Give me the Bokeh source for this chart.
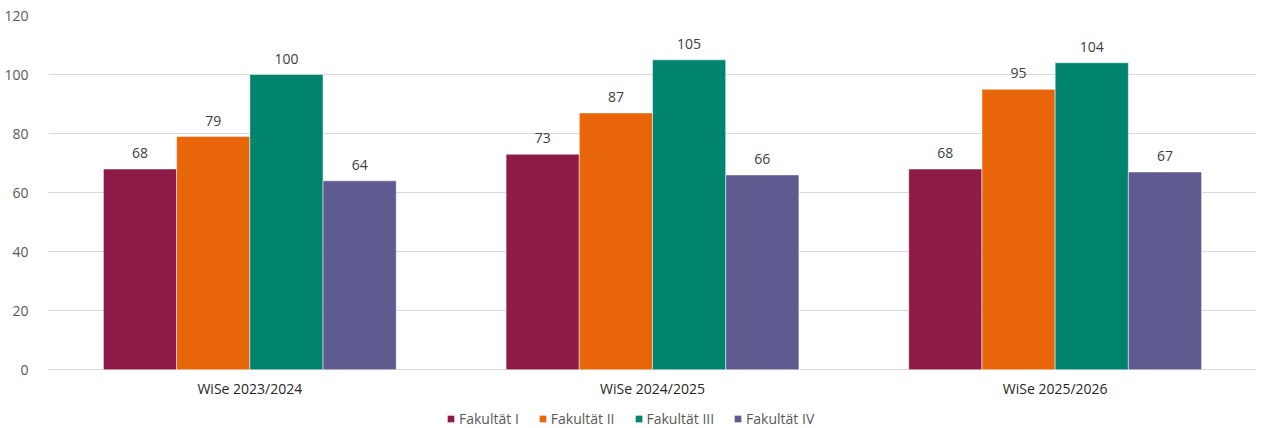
from bokeh.plotting import figure
from bokeh.models import (ColumnDataSource, FactorRange, Range1d, LabelSet, Legend,
                          LegendItem, FixedTicker)
from bokeh.transform import dodge
from bokeh.core.properties import value
from bokeh.embed import file_html
from bokeh.resources import INLINE

semesters = ["WiSe 2023/2024", "WiSe 2024/2025", "WiSe 2025/2026"]
series_names = ["Fakultät I", "Fakultät II", "Fakultät III", "Fakultät IV"]
fak1 = [68, 73, 68]
fak2 = [79, 87, 95]
fak3 = [100, 105, 104]
fak4 = [64, 66, 67]
colors = ["#8E1B47", "#E9650A", "#00846F", "#5F5B91"]
y_ticks = [0, 20, 40, 60, 80, 100, 120]

FONT = "Open Sans"

src = ColumnDataSource(dict(sem=semesters, f1=fak1, f2=fak2, f3=fak3, f4=fak4,
                            l1=[str(v) for v in fak1], l2=[str(v) for v in fak2],
                            l3=[str(v) for v in fak3], l4=[str(v) for v in fak4],
                            laby=[-6.45] * len(semesters)))

# frame spans down to the page bottom so that category labels and legend sit inside it
p = figure(x_range=FactorRange(*semesters, range_padding=0), y_range=Range1d(-19.9, 120),
           width=1264, height=428, output_backend="svg", toolbar_location=None,
           min_border_left=48, min_border_right=8, min_border_top=15, min_border_bottom=0)
p.outline_line_color = None
p.background_fill_color = "white"
p.xaxis.visible = False

bw = 0.1818
offsets = [-0.2727, -0.0909, 0.0909, 0.2727]
keys = ["f1", "f2", "f3", "f4"]
lkeys = ["l1", "l2", "l3", "l4"]
items = []
for k, lk, off, c, name in zip(keys, lkeys, offsets, colors, series_names):
    r = p.vbar(x=dodge("sem", off, range=p.x_range), top=k, bottom=0, width=bw, source=src,
               fill_color=c, line_color="white", line_alpha=0.5, line_width=1)
    items.append(LegendItem(label=name, renderers=[r]))
    lbl = LabelSet(x=dodge("sem", off, range=p.x_range), y=k, text=lk, source=src,
                   text_align="center", text_baseline="middle", y_offset=16,
                   text_font=value(FONT), text_font_size=value("14px"), text_color="#404040")
    p.add_layout(lbl)

# category labels
p.text(x="sem", y="laby", text="sem", source=src, text_align="center",
       text_baseline="middle", text_font=value(FONT), text_font_size=value("14px"),
       text_color="#262626")

p.yaxis.ticker = FixedTicker(ticks=y_ticks)
p.yaxis.axis_line_color = None
p.yaxis.major_tick_line_color = None
p.yaxis.minor_tick_line_color = None
p.yaxis.major_label_text_font = FONT
p.yaxis.major_label_text_font_size = "14px"
p.yaxis.major_label_text_color = "#595959"
p.yaxis.major_label_standoff = 14

p.xgrid.grid_line_color = None
p.ygrid.grid_line_color = "#D9D9D9"
p.ygrid.grid_line_width = 1

legend = Legend(items=items, orientation="horizontal", location=(398, 0),
                glyph_width=9, glyph_height=9, label_standoff=4, spacing=19,
                label_height=9, label_text_font=FONT, label_text_font_size="14px",
                label_text_color="#595959", label_text_baseline="middle",
                padding=0, margin=0,
                border_line_color=None, background_fill_alpha=0)
p.add_layout(legend, "center")

open("out.html", "w").write(file_html(p, INLINE))
